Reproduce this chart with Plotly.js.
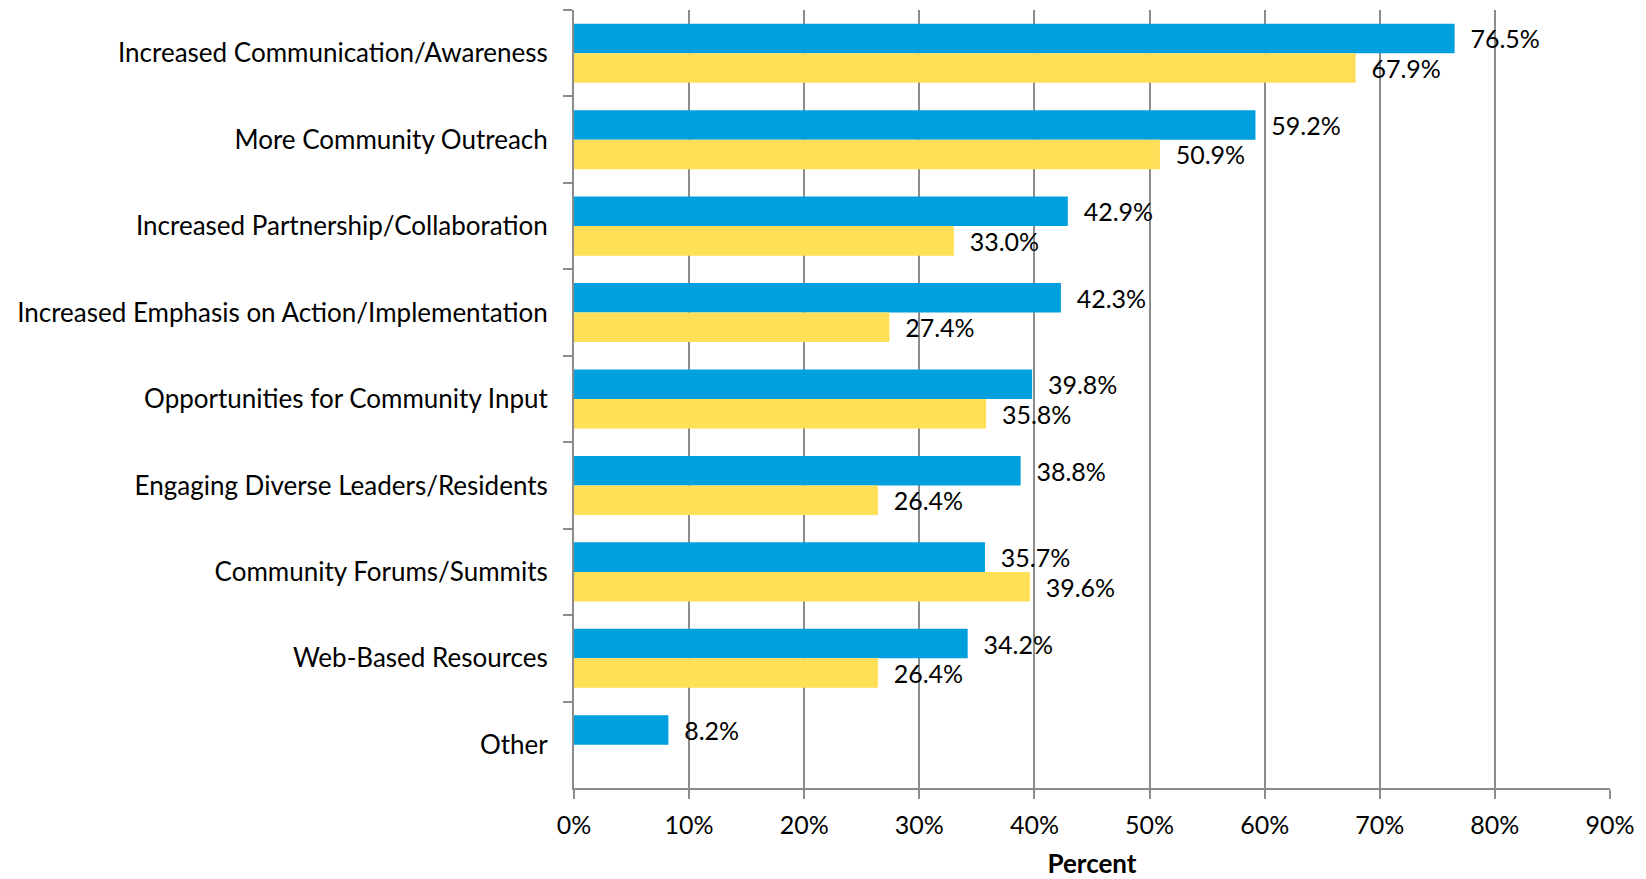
<!DOCTYPE html>
<html>
<head>
<meta charset="utf-8">
<script src="https://cdn.plot.ly/plotly-3.0.1.min.js"></script>
<style>
  html, body { margin: 0; padding: 0; background: #fff; }
  #chart { width: 1646px; height: 879px; }
</style>
</head>
<body>
<div id="chart"></div>
<script>
const categories = [
  "Increased Communication/Awareness",
  "More Community Outreach",
  "Increased Partnership/Collaboration",
  "Increased Emphasis on Action/Implementation",
  "Opportunities for Community Input",
  "Engaging Diverse Leaders/Residents",
  "Community Forums/Summits",
  "Web-Based Resources",
  "Other"
];
const seriesBlue = [76.5, 59.2, 42.9, 42.3, 39.8, 38.8, 35.7, 34.2, 8.2];
const seriesYellow = [67.9, 50.9, 33.0, 27.4, 35.8, 26.4, 39.6, 26.4, null];
const xTickVals = [0, 10, 20, 30, 40, 50, 60, 70, 80, 90];
const xTickText = ["0%", "10%", "20%", "30%", "40%", "50%", "60%", "70%", "80%", "90%"];

const FONT = "Lato, 'Open Sans', sans-serif";
const labelText = v => (v === null ? "" : "\u00a0\u00a0" + v.toFixed(1) + "%");

const traces = [
  {
    type: "bar", orientation: "h", name: "Series 1",
    y: categories, x: seriesBlue,
    marker: { color: "#009FDE" },
    text: seriesBlue.map(labelText),
    textposition: "outside", cliponaxis: false, constraintext: "none",
    textfont: { family: FONT, size: 25, color: "#000" },
    hoverinfo: "x+y"
  },
  {
    type: "bar", orientation: "h", name: "Series 2",
    y: categories, x: seriesYellow,
    marker: { color: "#FFDF55" },
    text: seriesYellow.map(labelText),
    textposition: "outside", cliponaxis: false, constraintext: "none",
    textfont: { family: FONT, size: 25, color: "#000" },
    hoverinfo: "x+y"
  }
];

const layout = {
  width: 1646, height: 879,
  margin: { l: 574, r: 36, t: 10, b: 91, pad: 0 },
  paper_bgcolor: "#fff", plot_bgcolor: "#fff",
  showlegend: false,
  barmode: "group",
  bargap: 0.317, bargroupgap: 0,
  font: { family: FONT, size: 25, color: "#000" },
  xaxis: {
    range: [0, 90], fixedrange: true,
    tickvals: xTickVals, ticktext: xTickText,
    showgrid: true, gridcolor: "#8c8c8c", gridwidth: 2,
    showline: true, linecolor: "#8c8c8c", linewidth: 2,
    ticks: "outside", ticklen: 9, tickwidth: 2, tickcolor: "#8c8c8c",
    ticklabelstandoff: 5,
    tickfont: { family: FONT, size: 25, color: "#000" },
    zeroline: false,
    title: { text: "<b>Percent</b>", font: { family: FONT, size: 26, color: "#000" }, standoff: 25 }
  },
  yaxis: {
    type: "category", autorange: "reversed", fixedrange: true,
    showgrid: false, zeroline: false,
    showline: true, linecolor: "#8c8c8c", linewidth: 2,
    ticks: "outside", tickson: "boundaries", ticklen: 9, tickwidth: 2, tickcolor: "#8c8c8c",
    ticklabelstandoff: 19,
    tickfont: { family: FONT, size: 26, color: "#000" }
  }
};

Plotly.newPlot("chart", traces, layout, { displayModeBar: false, staticPlot: true });
</script>
</body>
</html>
